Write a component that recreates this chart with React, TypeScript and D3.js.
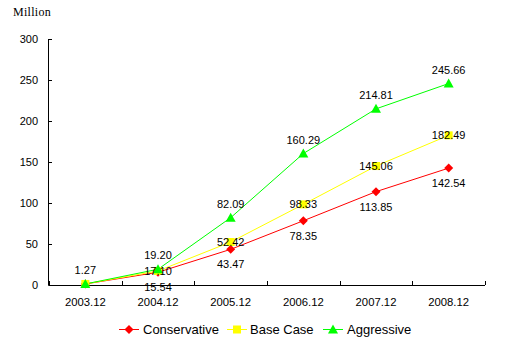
import React from "react";
import * as d3 from "d3";

const categories = ["2003.12", "2004.12", "2005.12", "2006.12", "2007.12", "2008.12"];
const conservative = [1.27, 15.54, 43.47, 78.35, 113.85, 142.54];
const baseCase = [1.27, 17.1, 52.42, 98.33, 145.06, 182.49];
const aggressive = [1.27, 19.2, 82.09, 160.29, 214.81, 245.66];
const yTicks = [0, 50, 100, 150, 200, 250, 300];
const seriesNames = ["Conservative", "Base Case", "Aggressive"];

const W = 508, H = 341;
const FONT = "'Liberation Sans', Arial, sans-serif";

type Series = {
  name: string;
  values: number[];
  color: string;
  marker: "diamond" | "square" | "triangle";
  labelPos: "above" | "below" | "center";
  showLabel: boolean[];
};

const series: Series[] = [
  { name: seriesNames[0], values: conservative, color: "#FF0000", marker: "diamond", labelPos: "below", showLabel: [false, true, true, true, true, true] },
  { name: seriesNames[1], values: baseCase, color: "#FFFF00", marker: "square", labelPos: "center", showLabel: [false, true, true, true, true, true] },
  { name: seriesNames[2], values: aggressive, color: "#00FF00", marker: "triangle", labelPos: "above", showLabel: [true, true, true, true, true, true] },
];

function Marker({ type, x, y, color }: { type: string; x: number; y: number; color: string }) {
  if (type === "diamond") {
    return <path d={`M${x},${y - 4.5}L${x + 4.5},${y}L${x},${y + 4.5}L${x - 4.5},${y}Z`} fill={color} />;
  }
  if (type === "square") {
    return <rect x={x - 4} y={y - 4} width={8} height={8} fill={color} />;
  }
  return <path d={`M${x},${y - 5}L${x + 5},${y + 4}L${x - 5},${y + 4}Z`} fill={color} />;
}

export default function App() {
  const x = d3.scaleBand<string>().domain(categories).range([49, 485]);
  const y = d3.scaleLinear().domain([0, 300]).range([285, 39]);
  const cx = (c: string) => (x(c) ?? 0) + x.bandwidth() / 2;
  const line = d3
    .line<number>()
    .x((_, i) => cx(categories[i]))
    .y((d) => y(d));

  const boundaries = [...categories.map((c) => x(c) ?? 0), x.range()[1]];

  const legendItems = [
    { lx: 119, tx: 143 },
    { lx: 227, tx: 250 },
    { lx: 323, tx: 347 },
  ];

  return (
    <svg width={W} height={H} style={{ position: "absolute", left: 0, top: 0, background: "#fff" }}>
      <rect width={W} height={H} fill="#fff" />
      <text x={13} y={16} fontFamily="'Liberation Serif', 'DejaVu Serif', serif" fontSize={12} letterSpacing={0.3} fill="#000">
        Million
      </text>
      {/* Y axis */}
      <line x1={48.5} x2={48.5} y1={y(300)} y2={y(0)} stroke="#000" />
      {yTicks.map((t) => (
        <g key={t}>
          <line x1={48.5} x2={52} y1={Math.round(y(t)) + 0.5} y2={Math.round(y(t)) + 0.5} stroke="#000" />
          <text x={38} y={y(t) + 4} textAnchor="end" fontFamily={FONT} fontSize={11} fill="#000">
            {t}
          </text>
        </g>
      ))}
      {/* X axis */}
      <line x1={48.5} x2={x.range()[1]} y1={Math.round(y(0)) + 0.5} y2={Math.round(y(0)) + 0.5} stroke="#000" />
      {boundaries.map((b, i) => (
        <line key={i} x1={Math.round(b) + 0.5} x2={Math.round(b) + 0.5} y1={y(0)} y2={y(0) - 4} stroke="#000" />
      ))}
      {categories.map((c) => (
        <text key={c} x={cx(c)} y={306} textAnchor="middle" fontFamily={FONT} fontSize={11.3} fill="#000">
          {c}
        </text>
      ))}
      {/* Lines */}
      {series.map((s) => (
        <path key={s.name} d={line(s.values) || ""} fill="none" stroke={s.color} strokeWidth={1} />
      ))}
      {series.map((s) =>
        s.values.map((v, i) => <Marker key={s.name + i} type={s.marker} x={cx(categories[i])} y={y(v)} color={s.color} />)
      )}
      {/* Data labels */}
      {series.map((s) =>
        s.values.map((v, i) =>
          s.showLabel[i] ? (
            <text
              key={s.name + "l" + i}
              x={cx(categories[i])}
              y={y(v) + (s.labelPos === "above" ? -10 : s.labelPos === "below" ? 19 : 4)}
              textAnchor="middle"
              fontFamily={FONT}
              fontSize={11}
              fill="#000"
            >
              {v.toFixed(2)}
            </text>
          ) : null
        )
      )}
      {/* Legend */}
      {series.map((s, i) => (
        <g key={s.name + "leg"}>
          <line x1={legendItems[i].lx} x2={legendItems[i].lx + 20} y1={329.5} y2={329.5} stroke={s.color} strokeWidth={1} />
          <Marker type={s.marker} x={legendItems[i].lx + 10} y={329.5} color={s.color} />
          <text x={legendItems[i].tx} y={334} fontFamily={FONT} fontSize={13} fill="#000">
            {s.name}
          </text>
        </g>
      ))}
    </svg>
  );
}
